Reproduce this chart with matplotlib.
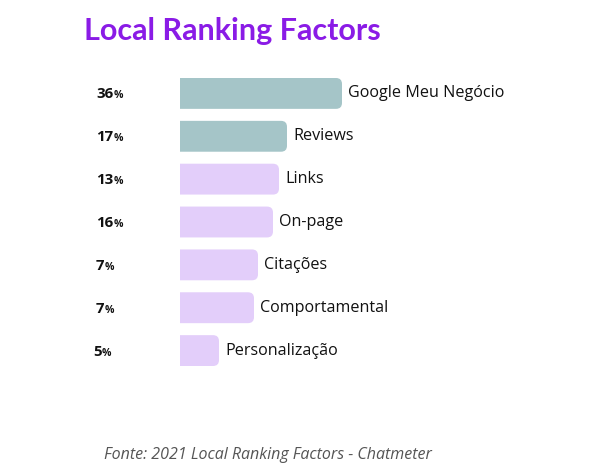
import matplotlib.pyplot as plt
from matplotlib.patches import FancyBboxPatch

# data
factors = ["Google Meu Negócio", "Reviews", "Links", "On-page",
           "Citações", "Comportamental", "Personalização"]
percents = [36, 17, 13, 16, 7, 7, 5]
# drawn bar lengths (as they appear in the graphic, px)
bar_lengths = [162, 107, 99, 93, 78, 74, 39]
bar_colors = ["#a5c5c8", "#a5c5c8", "#e3cefa", "#e3cefa",
              "#e3cefa", "#e3cefa", "#e3cefa"]

W, H = 604, 475
fig = plt.figure(figsize=(W / 100, H / 100), dpi=100)
fig.patch.set_facecolor("white")

top, bottom, left = 72, 372, 180
ax = fig.add_axes([left / W, 1 - bottom / H, (W - left) / W, (bottom - top) / H])
ax.set_xlim(0, W - left)
ax.set_ylim(len(factors) - 0.5, -0.5)
ax.axis("off")

row_px = (bottom - top) / len(factors)
ypos = list(range(len(factors)))
bars = ax.barh(ypos, bar_lengths, height=0.72, color=bar_colors)

r = 6
for b, c in zip(bars, bar_colors):
    x0, y0 = b.get_x(), b.get_y()
    w, h = b.get_width(), b.get_height()
    b.remove()
    p = FancyBboxPatch((x0 - r, y0), w + r, h,
                       boxstyle=f"round,pad=0,rounding_size={r}",
                       mutation_aspect=1 / row_px,
                       fc=c, ec="none", clip_on=True)
    ax.add_patch(p)

for i, (name, pct, w) in enumerate(zip(factors, percents, bar_lengths)):
    ax.text(w + 6, i, name, va="center", ha="left", fontsize=11.6,
            family="Open Sans", color="#111111")
    yc = 1 - (top + (i + 0.5) * row_px) / H
    x_num = 93 if pct < 10 and i == len(factors) - 1 else 96
    t = fig.text(x_num / W, yc - 5 / H, str(pct), fontsize=10.8,
                 fontweight="bold", family="Open Sans", color="#111111",
                 va="baseline", ha="left")
    ax.annotate("%", xy=(1, 0), xycoords=t, va="bottom", ha="left",
                fontsize=7.5, fontweight="bold", family="Open Sans",
                color="#111111", annotation_clip=False)

fig.text(84 / W, 1 - 31 / H, "Local Ranking Factors", fontsize=22,
         fontweight="bold", family="Lato", color="#8a1be6",
         va="center", ha="left")

fig.text(104 / W, 1 - 455 / H, "Fonte: 2021 Local Ranking Factors - Chatmeter",
         fontsize=11.5, style="italic", family="Open Sans", color="#555555",
         va="center", ha="left")

fig.savefig("out.png", dpi=100, facecolor="white")
